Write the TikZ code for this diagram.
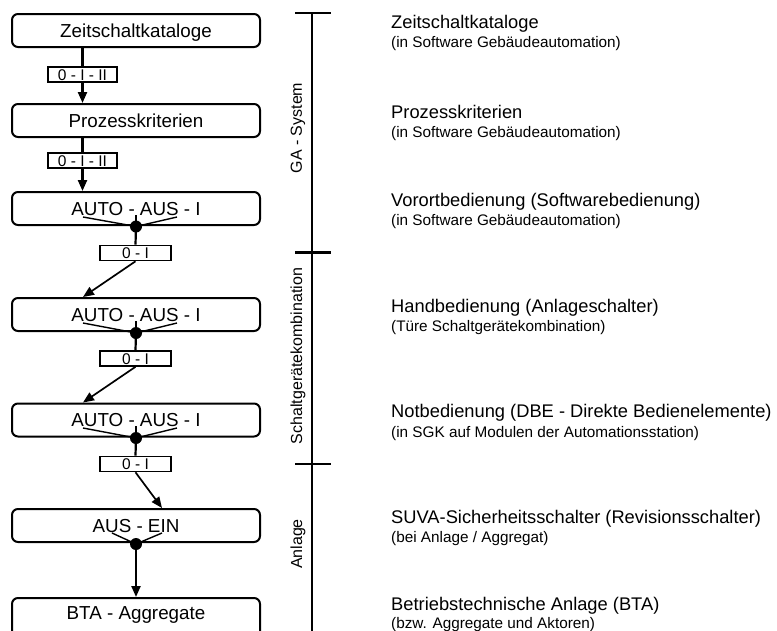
\documentclass[tikz,border=0pt]{standalone}
\usepackage{fontspec}
\setmainfont{Liberation Sans}
\usetikzlibrary{arrows.meta,calc}
\begin{document}
\begin{tikzpicture}[x=1pt,y=-1pt,
  box/.style={draw, line width=2pt, rounded corners=6pt, minimum width=248pt, minimum height=33pt, inner sep=0pt, font=\fontsize{18.8}{20}\selectfont, text height=13.4pt, text depth=0pt},
  boxtext/.style={inner sep=0pt, font=\fontsize{18.8}{20}\selectfont, text height=13.4pt, text depth=0pt},
  lbl/.style={draw, fill=white, line width=1.6pt, inner sep=0pt, minimum height=15pt, font=\fontsize{15.5}{16}\selectfont, text height=11pt, text depth=0pt},
  dot/.style={circle, fill=black, inner sep=0pt, minimum size=12pt},
  arr/.style={line width=2.2pt, -{Triangle[width=9pt,length=11pt]}},
  conn/.style={line width=2.2pt},
  lever/.style={line width=1.4pt},
  title/.style={anchor=base west, inner sep=0pt, font=\fontsize{18.3}{20}\selectfont},
  sub/.style={anchor=base west, inner sep=0pt, font=\fontsize{15.3}{18}\selectfont},
  zone/.style={rotate=90, inner sep=0pt, font=\fontsize{16}{18}\selectfont},
  scaleline/.style={line width=2pt},
  tickline/.style={line width=2.5pt},
]
\useasboundingbox (0,0) rectangle (777,630);

% boxes
\node[box] (b1) at (136,30.5) {Zeitschaltkataloge};
\node[box] (b2) at (136,120.5) {Prozesskriterien};
\node[box] (b3) at (136,208.5) {AUTO - AUS - I};
\node[box] (b4) at (136,314.5) {AUTO - AUS - I};
\node[box] (b5) at (136,420) {AUTO - AUS - I};
\node[box] (b6) at (136,525.5) {AUS - EIN};
\node[box, minimum height=46pt, anchor=north] (b7) at (136,597) {};
\node[boxtext] (t7) at (136,613) {BTA - Aggregate};

% label boxes
\node[lbl, minimum width=69pt] (l1) at (82.5,74.5) {0 - I - II};
\node[lbl, minimum width=69pt] (l2) at (82.5,160.5) {0 - I - II};
\node[lbl, minimum width=71pt] (l3) at (135.5,253) {0 - I};
\node[lbl, minimum width=71pt] (l4) at (135.5,358.5) {0 - I};
\node[lbl, minimum width=71pt] (l5) at (135.5,464) {0 - I};

% switches
\coordinate (d3l) at (83,217); \coordinate (d3r) at (177,217); \coordinate (d3t) at (136,215);
\coordinate (d4l) at (83,323); \coordinate (d4r) at (177,323); \coordinate (d4t) at (136,321);
\coordinate (d5l) at (83,428); \coordinate (d5r) at (177,428); \coordinate (d5t) at (136,426);
\coordinate (d6l) at (112,533); \coordinate (d6r) at (162,533);
\node[dot] (d3) at (136,226.5) {};
\node[dot] (d4) at (136,333) {};
\node[dot] (d5) at (136,438) {};
\node[dot] (d6) at (136,544) {};
\draw[lever] (d3l) -- (d3.center) -- (d3r);
\draw[lever] (d3.center) -- (d3t);
\draw[lever] (d4l) -- (d4.center) -- (d4r);
\draw[lever] (d4.center) -- (d4t);
\draw[lever] (d5l) -- (d5.center) -- (d5r);
\draw[lever] (d5.center) -- (d5t);
\draw[lever] (d6l) -- (d6.center) -- (d6r);

% connectors
\draw[conn] (l1 |- b1.south) -- (l1.north);
\draw[arr] (l1.south) -- (l1 |- b2.north);
\draw[conn] (l2 |- b2.south) -- (l2.north);
\draw[arr] (l2.south) -- (l2 |- b3.north);
\draw[conn] (d3.center) -- (l3.north);
\draw[arr, line width=1.7pt] (l3.south) -- (d3l |- b4.north);
\draw[conn] (d4.center) -- (l4.north);
\draw[arr, line width=1.7pt] (l4.south) -- (d4l |- b5.north);
\draw[conn] (d5.center) -- (l5.north);
\draw[arr, line width=1.7pt] (l5.south) -- (d6r |- b6.north);
\draw[arr] (d6.center) -- (b7.north);

% scale on the right
\coordinate (k1) at (312,13);
\coordinate (k2) at (312,252.7);
\coordinate (k3) at (312,464);
\coordinate (k4) at (312,632);
\draw[scaleline] (k1) -- (k4);
\draw[tickline] ($(k1)+(-17,0)$) -- ($(k1)+(19,0)$);
\draw[tickline] ($(k2)+(-17,0)$) -- ($(k2)+(19,0)$);
\draw[tickline] ($(k3)+(-17,0)$) -- ($(k3)+(19,0)$);
\node[zone] (z1) at (298,128) {GA - System};
\node[zone] (z2) at (298,356) {Schaltgerätekombination};
\node[zone] (z3) at (298,544) {Anlage};

% descriptions
\node[title] (r1) at (391,28) {Zeitschaltkataloge};
\node[sub] (s1) at (391,47.5) {(in Software Gebäudeautomation)};
\node[title] (r2) at (391,118) {Prozesskriterien};
\node[sub] (s2) at (391,137.5) {(in Software Gebäudeautomation)};
\node[title] (r3) at (391,206) {Vorortbedienung (Softwarebedienung)};
\node[sub] (s3) at (391,225.5) {(in Software Gebäudeautomation)};
\node[title] (r4) at (391,312) {Handbedienung (Anlageschalter)};
\node[sub] (s4) at (391,331.5) {(Türe Schaltgerätekombination)};
\node[title] (r5) at (391,417.5) {Notbedienung (DBE - Direkte Bedienelemente)};
\node[sub] (s5) at (391,437) {(in SGK auf Modulen der Automationsstation)};
\node[title] (r6) at (391,523) {SUVA-Sicherheitsschalter (Revisionsschalter)};
\node[sub] (s6) at (391,542.5) {(bei Anlage / Aggregat)};
\node[title] (r7) at (391,610) {Betriebstechnische Anlage (BTA)};
\node[sub] (s7) at (391,628) {(bzw. Aggregate und Aktoren)};
\end{tikzpicture}
\end{document}
